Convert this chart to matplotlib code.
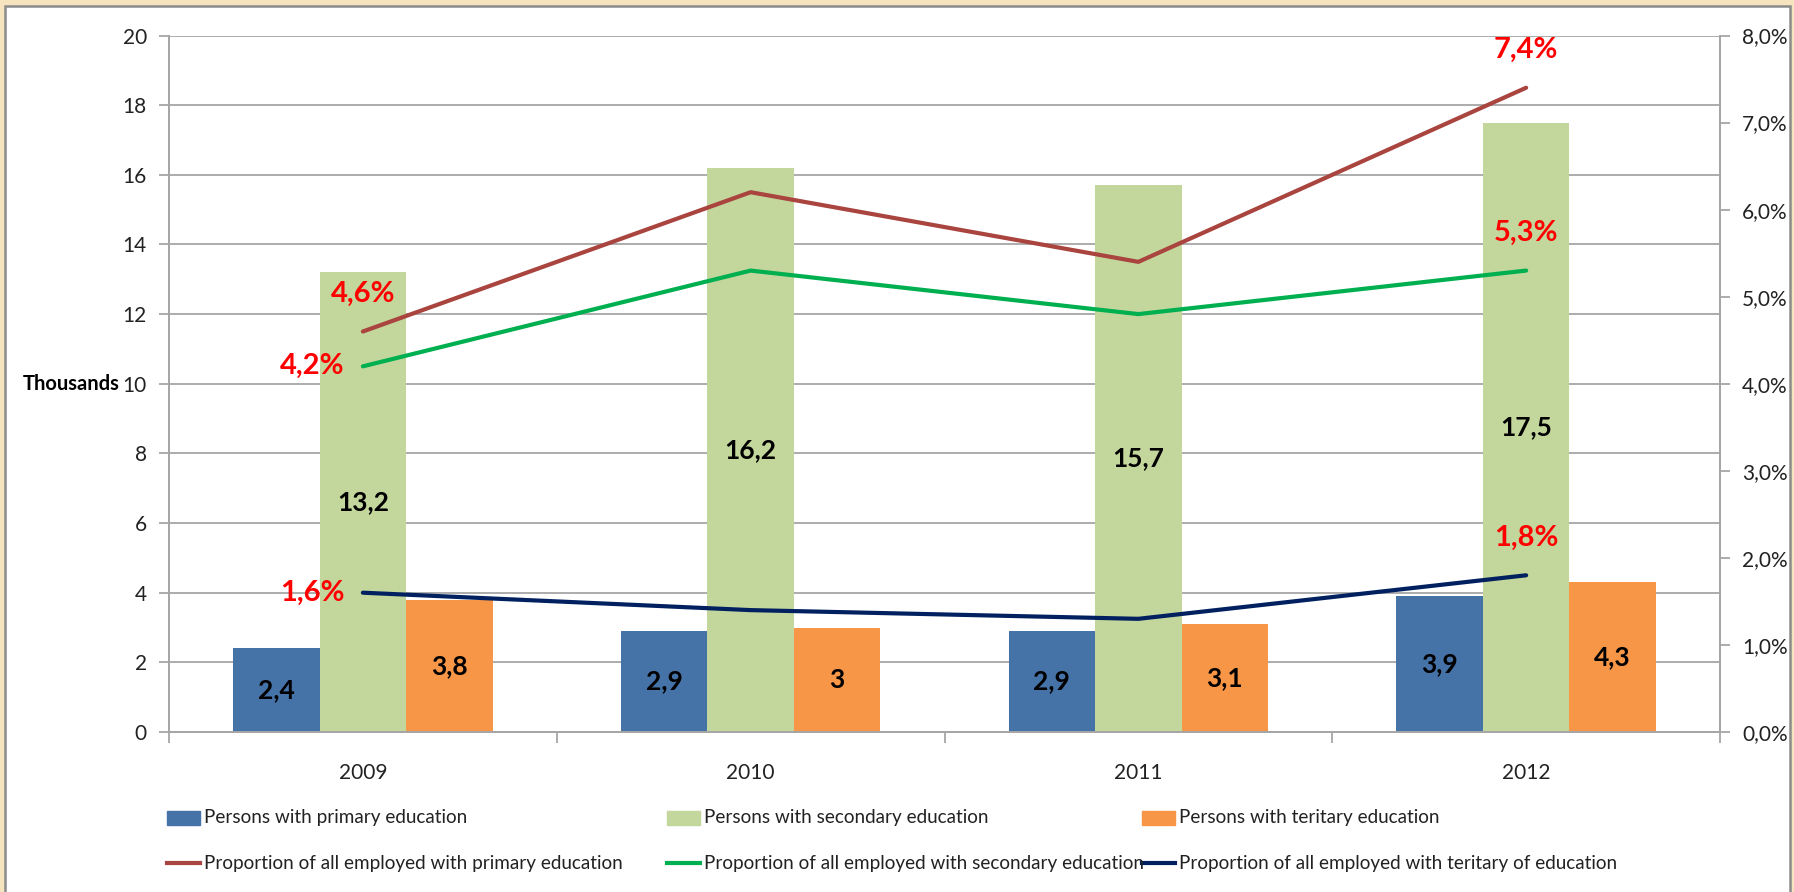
import matplotlib.pyplot as plt
from matplotlib.patches import Rectangle
from matplotlib.lines import Line2D
import numpy as np

years = ['2009', '2010', '2011', '2012']
primary = [2.4, 2.9, 2.9, 3.9]
secondary = [13.2, 16.2, 15.7, 17.5]
tertiary = [3.8, 3.0, 3.1, 4.3]
share_primary = [4.6, 6.2, 5.4, 7.4]
share_secondary = [4.2, 5.3, 4.8, 5.3]
share_tertiary = [1.6, 1.4, 1.3, 1.8]

bar_names = ['Persons with primary education', 'Persons with secondary education',
             'Persons with teritary education']
line_names = ['Proportion of all employed with primary education',
              'Proportion of all employed with secondary education',
              'Proportion of all employed with teritary of education']

bar_colors = ['#4572A7', '#C3D69B', '#F79646']
line_colors = ['#A9443F', '#00B050', '#002060']
grid_col = '#A6A6A6'

plt.rcParams['font.family'] = ['Lato', 'DejaVu Sans']

W, H = 1794, 892
fig = plt.figure(figsize=(W / 100, H / 100), dpi=100, facecolor='#F6E4BE')
fig.add_artist(Rectangle((5 / W, -0.02), 1785 / W, 1 - 6 / H + 0.02, transform=fig.transFigure,
                         facecolor='white', edgecolor='#8C8C8C', lw=1.8, zorder=-1))


def px(x, y):
    return x / W, 1 - y / H


ax = fig.add_axes([169 / W, 1 - 732 / H, (1720 - 169) / W, (732 - 35.5) / H])
ax.patch.set_alpha(0)
ax2 = ax.twinx()

x = np.arange(len(years))
w = 0.223
for i, (vals, col) in enumerate(zip([primary, secondary, tertiary], bar_colors)):
    xs = x + (i - 1) * w
    ax.bar(xs, vals, w, color=col, zorder=2)
    for xi, v in zip(xs, vals):
        ax.text(xi, v / 2, f"{v:g}".replace('.', ','), ha='center', va='center',
                fontsize=19, fontweight='bold', color='black', zorder=3)

ax.set_xlim(-0.5, 3.5)
ax.set_ylim(0, 20)
ax.set_yticks(range(0, 21, 2))
ax.grid(axis='y', color=grid_col, lw=1.3, zorder=0)
ax.set_axisbelow(True)
ax.set_xticks(x)
ax.set_xticklabels(years)
ax.set_xticks(np.arange(-0.5, 4, 1), minor=True)
ax.tick_params(axis='x', which='major', length=0, pad=22, labelsize=15, labelcolor='#222222')
ax.tick_params(axis='x', which='minor', length=8, color=grid_col, width=1.3)
ax.tick_params(axis='y', length=7, color=grid_col, width=1.3, pad=9, labelsize=15, labelcolor='#222222')

# lines on the secondary axis, labels only on first and last point
labels_pos = [('above', 'above'), ('left', 'above'), ('left', 'above')]
for vals, col, pos in zip([share_primary, share_secondary, share_tertiary], line_colors, labels_pos):
    ax2.plot(x, vals, color=col, lw=3, solid_capstyle='round', zorder=4)
    for idx, p in zip([0, len(vals) - 1], pos):
        txt = f"{vals[idx]:.1f}%".replace('.', ',')
        if p == 'above':
            ax2.annotate(txt, (x[idx], vals[idx]), xytext=(0, 27), textcoords='offset points',
                         ha='center', va='center', color='red', fontsize=21, fontweight='bold')
        else:
            ax2.annotate(txt, (x[idx], vals[idx]), xytext=(-13, 0), textcoords='offset points',
                         ha='right', va='center', color='red', fontsize=21, fontweight='bold')

ax2.set_ylim(0, 8)
ax2.set_yticks(range(0, 9))
ax2.yaxis.set_major_formatter(lambda v, p: f"{v:.1f}%".replace('.', ','))
ax2.tick_params(axis='y', length=7, color=grid_col, width=1.3, pad=9, labelsize=15, labelcolor='#222222')

for a in (ax, ax2):
    a.spines['top'].set_visible(False)
    for s in ('left', 'right', 'bottom'):
        a.spines[s].set_color(grid_col)
        a.spines[s].set_linewidth(1.3)

fig.text(*px(120, 384), 'Thousands', ha='right', va='center', fontsize=14.5, fontweight='bold')

# legend, laid out like the original
col_x = [167, 667, 1142]
row_y = [818, 863]
for cx, name, col in zip(col_x, bar_names, bar_colors):
    x0, y0 = px(cx, row_y[0] + 7)
    fig.add_artist(Rectangle((x0, y0), 33 / W, 14 / H, transform=fig.transFigure, color=col))
    fig.text(*px(cx + 37, row_y[0]), name, ha='left', va='center', fontsize=13.6, color='#222222')
for cx, name, col in zip(col_x, line_names, line_colors):
    xa, ya = px(cx, row_y[1])
    xb, _ = px(cx + 33, row_y[1])
    fig.add_artist(Line2D([xa, xb], [ya, ya], transform=fig.transFigure, color=col, lw=3))
    fig.text(*px(cx + 37, row_y[1]), name, ha='left', va='center', fontsize=13.6, color='#222222')

fig.savefig('out.png', dpi=100, facecolor=fig.get_facecolor())
